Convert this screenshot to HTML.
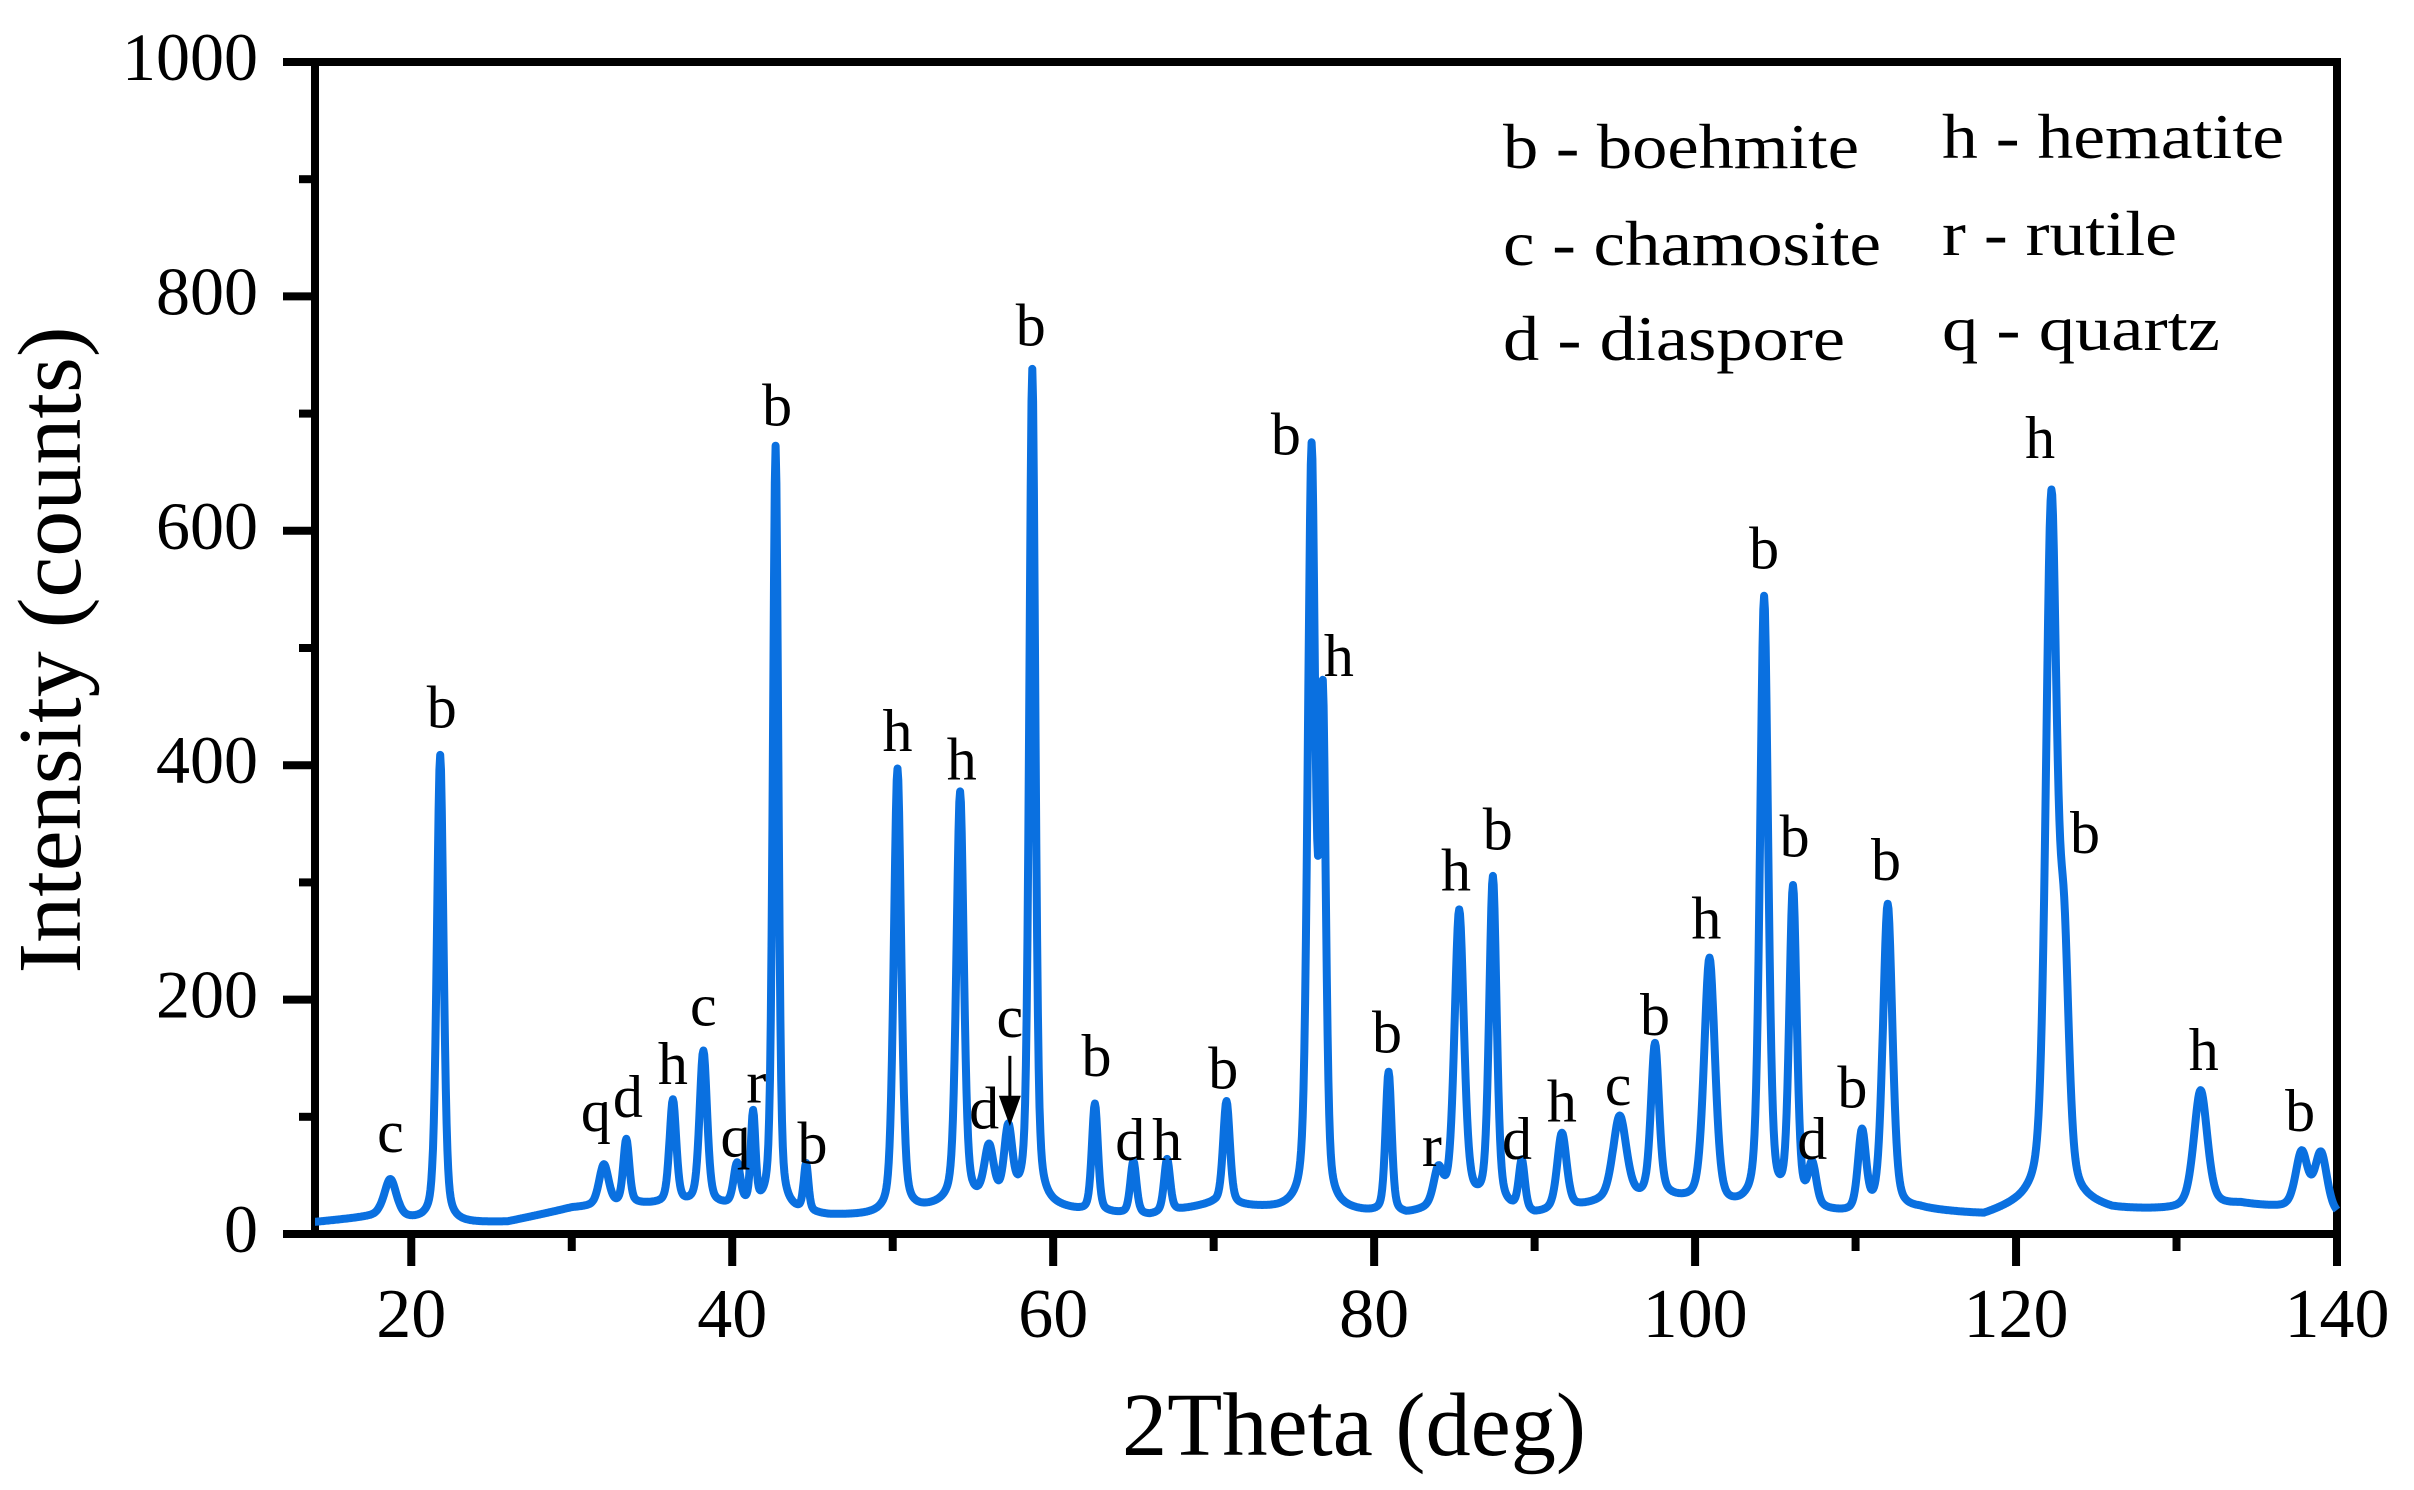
<!DOCTYPE html>
<html><head><meta charset="utf-8"><style>
html,body{margin:0;padding:0;background:#fff;}
svg{display:block;font-family:"Liberation Serif",serif;}
</style></head><body>
<svg id="chart" width="2414" height="1490" viewBox="0 0 2414 1490" xmlns="http://www.w3.org/2000/svg">
<g id="axes"></g>
<g id="series"></g>
<g id="labels"></g>
<g id="legend" font-size="64" fill="#000">
<text x="1503" y="168" textLength="356" lengthAdjust="spacingAndGlyphs">b - boehmite</text>
<text x="1503" y="265" textLength="378" lengthAdjust="spacingAndGlyphs">c - chamosite</text>
<text x="1503" y="360" textLength="342" lengthAdjust="spacingAndGlyphs">d - diaspore</text>
<text x="1942" y="158" textLength="342" lengthAdjust="spacingAndGlyphs">h - hematite</text>
<text x="1942" y="255" textLength="235" lengthAdjust="spacingAndGlyphs">r - rutile</text>
<text x="1942" y="350" textLength="278" lengthAdjust="spacingAndGlyphs">q - quartz</text>
</g>
<text x="1354" y="1455" font-size="90" text-anchor="middle" textLength="464" lengthAdjust="spacingAndGlyphs">2Theta (deg)</text>
<text transform="translate(80,650) rotate(-90)" font-size="90" text-anchor="middle" textLength="647" lengthAdjust="spacingAndGlyphs">Intensity (counts)</text>
</svg>
<script>
// ---- data ----
const peakPos    = [18.7,21.8,32.0,33.4,36.3,38.2,40.3,41.3,42.7,44.6,50.3,54.2,56.0,57.2,58.7,62.6,65.0,67.1,70.8,76.1,76.8,80.9,84.0,85.3,87.4,89.2,91.7,95.3,97.5,100.9,104.3,106.1,107.3,110.4,112.0,122.2,123.0,131.5,137.8,139.0];
const peakHeight = [32,400,35,55,88,130,35,78,652,40,380,350,45,60,712,92,45,45,88,640,415,120,30,250,280,42,65,72,130,210,520,270,35,68,262,590,190,100,48,50];
const peakWidth  = [0.9,0.5,0.7,0.45,0.5,0.55,0.5,0.35,0.4,0.35,0.55,0.55,0.7,0.6,0.45,0.45,0.45,0.45,0.5,0.55,0.45,0.45,0.7,0.7,0.55,0.45,0.7,1.0,0.6,0.8,0.6,0.55,0.6,0.6,0.7,0.8,0.7,1.0,0.9,0.9];
const baseX      = [14,18,22,26,30,34,38,42,46,50,54,58,62,66,70,74,78,82,86,90,94,98,102,106,110,114,118,122,126,130,134,138,142];
const baseY      = [10,15,8,10,22,25,25,20,15,15,25,25,18,15,25,20,18,15,25,15,25,30,20,20,15,20,15,30,20,20,25,20,10];
const labelText  = ["c","b","q","d","h","c","q","r","b","b","h","h","d","c","b","b","d","h","b","b","h","b","r","h","b","d","h","c","b","h","b","b","d","b","b","h","b","h","b"];
const labelX     = [18.7,21.9,31.5,33.5,36.3,38.2,40.2,41.5,42.8,45.0,50.3,54.3,55.7,57.3,58.6,62.7,64.8,67.1,70.6,74.5,77.8,80.8,83.6,85.1,87.7,88.9,91.7,95.2,97.5,100.7,104.3,106.2,107.3,109.8,111.9,121.5,124.3,131.7,137.7];
const labelY     = [70,432,88,100,128,178,66,112,690,60,412,388,90,168,758,135,63,63,124,665,476,155,58,293,328,64,96,110,170,252,568,322,64,108,302,662,325,140,88];
const xTicks = [20,40,60,80,100,120,140];
const xMinor = [30,50,70,90,110,130];
const yTicks = [0,200,400,600,800,1000];
const yMinor = [100,300,500,700,900];

// ---- scales ----
const X0=315, X1=2337, XMIN=14, XMAX=140;
const Y0=1234, Y1=62, YMIN=0, YMAX=1000;
const sx = v => X0 + (v - XMIN) / (XMAX - XMIN) * (X1 - X0);
const sy = v => Y0 - (v - YMIN) / (YMAX - YMIN) * (Y0 - Y1);
const NS="http://www.w3.org/2000/svg";
function mk(tag, attrs, parent){ const e=document.createElementNS(NS,tag); for(const k in attrs) e.setAttribute(k,attrs[k]); parent.appendChild(e); return e; }

const ax=document.getElementById('axes');
const frame=mk('rect',{x:X0,y:Y1,width:X1-X0,height:Y0-Y1,fill:'none',stroke:'#000','stroke-width':8},ax);


xTicks.forEach(t=>{
  const l=mk('line',{x1:sx(t),x2:sx(t),y1:Y0,y2:Y0+32,stroke:'#000','stroke-width':8},ax);
  
  
  const tx=mk('text',{x:sx(t),y:1337,'font-size':70,'text-anchor':'middle'},ax);
  tx.textContent=t;
  
  
});
xMinor.forEach(t=>{
  const l=mk('line',{x1:sx(t),x2:sx(t),y1:Y0,y2:Y0+17,stroke:'#000','stroke-width':8},ax);
  
  
});
yTicks.forEach(t=>{
  const l=mk('line',{x1:X0-32,x2:X0,y1:sy(t),y2:sy(t),stroke:'#000','stroke-width':8},ax);
  
  
  const tx=mk('text',{x:258,y:sy(t)+18,'font-size':68,'text-anchor':'end'},ax);
  tx.textContent=t;
  
  
});
yMinor.forEach(t=>{
  const l=mk('line',{x1:X0-16,x2:X0,y1:sy(t),y2:sy(t),stroke:'#000','stroke-width':8},ax);
  
  
});

function baseline(x){
  for(let i=0;i<baseX.length-1;i++){
    if(x>=baseX[i]&&x<=baseX[i+1]){const f=(x-baseX[i])/(baseX[i+1]-baseX[i]);return baseY[i]+(baseY[i+1]-baseY[i])*f;}
  }
  return baseY[baseY.length-1];
}
function intensity(x){
  let y=baseline(x);
  for(let i=0;i<peakPos.length;i++){
    const u=(x-peakPos[i])/peakWidth[i];
    y+=peakHeight[i]*(0.4/(1+4*u*u)+0.6*Math.exp(-2.7726*u*u));
  }
  return Math.min(y,YMAX);
}
let d='';
for(let k=0;k<=2520;k++){
  const x=XMIN+k*(XMAX-XMIN)/2520;
  d+=(k?'L':'M')+sx(x).toFixed(1)+' '+sy(intensity(x)).toFixed(1);
}
const path=mk('path',{d:d,fill:'none',stroke:'#0a70e0','stroke-width':8,'stroke-linejoin':'round'},document.getElementById('series'));



const lg=document.getElementById('labels');
labelText.forEach((t,i)=>{
  const tx=mk('text',{x:sx(labelX[i]),y:sy(labelY[i]),'font-size':60,'text-anchor':'middle'},lg);
  tx.textContent=t;
  
  
});
const ar=mk('g',{},lg);


mk('line',{x1:sx(57.3),x2:sx(57.3),y1:sy(152),y2:sy(115),stroke:'#000','stroke-width':3},ar);
mk('polygon',{points:`${sx(57.3)-11},${sy(118)} ${sx(57.3)+11},${sy(118)} ${sx(57.3)},${sy(92)}`,fill:'#000'},ar);
</script>
</body></html>
